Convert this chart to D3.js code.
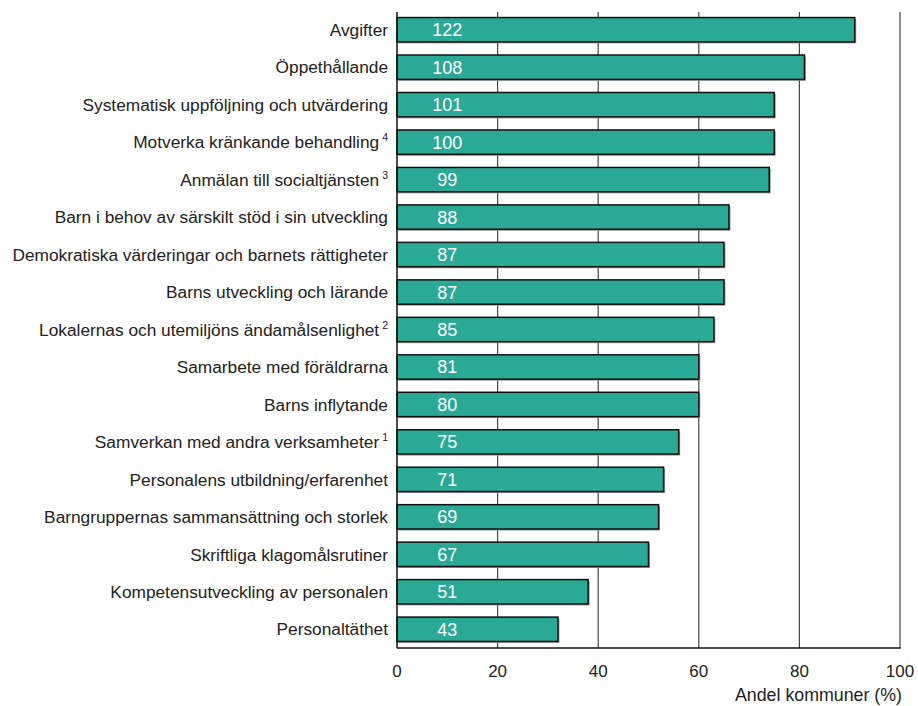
<!DOCTYPE html>
<html>
<head>
<meta charset="utf-8">
<script src="https://cdn.jsdelivr.net/npm/d3@7"></script>
<style>
  body { margin: 0; background: #fff; }
  text { font-family: "Liberation Sans", Arial, sans-serif; }
</style>
</head>
<body>
<svg id="chart" width="918" height="706"></svg>
<script>
// categories, top to bottom
var categories = [
  "Avgifter",
  "Öppethållande",
  "Systematisk uppföljning och utvärdering",
  "Motverka kränkande behandling",
  "Anmälan till socialtjänsten",
  "Barn i behov av särskilt stöd i sin utveckling",
  "Demokratiska värderingar och barnets rättigheter",
  "Barns utveckling och lärande",
  "Lokalernas och utemiljöns ändamålsenlighet",
  "Samarbete med föräldrarna",
  "Barns inflytande",
  "Samverkan med andra verksamheter",
  "Personalens utbildning/erfarenhet",
  "Barngruppernas sammansättning och storlek",
  "Skriftliga klagomålsrutiner",
  "Kompetensutveckling av personalen",
  "Personaltäthet"
]
// footnote marks after some labels
var footnotes = ["", "", "", "4", "3", "", "", "", "2", "", "", "1", "", "", "", "", ""]
// share of municipalities (%)
var shares = [91, 81, 75, 75, 74, 66, 65, 65, 63, 60, 60, 56, 53, 52, 50, 38, 32]
// number of municipalities, printed in the bars
var counts = [122, 108, 101, 100, 99, 88, 87, 87, 85, 81, 80, 75, 71, 69, 67, 51, 43]
var xTicks = [0, 20, 40, 60, 80, 100]
var xTitle = "Andel kommuner (%)"

var svg = d3.select("#chart")
// plot edges (note: "top" is reserved on window, so use other names)
var plotLeft = 397, plotRight = 900, plotTop = 11, plotBottom = 648

var x = d3.scaleLinear().domain([0, 100]).range([plotLeft, plotRight])
var y = d3.scaleBand().domain(categories).range([plotTop, plotBottom])
  .paddingInner(0.35).paddingOuter(0.175)

// vertical grid lines
svg.selectAll(".grid")
  .data(xTicks.filter(function(d) { return d > 0 }))
  .enter()
  .append("line")
  .attr("class", "grid")
  .attr("x1", function(d) { return x(d) })
  .attr("x2", function(d) { return x(d) })
  .attr("y1", plotTop + 1)
  .attr("y2", plotBottom)
  .attr("stroke", "#444")
  .attr("stroke-width", 1.2)

// bar shadows
svg.selectAll(".shadow")
  .data(shares)
  .enter()
  .append("rect")
  .attr("class", "shadow")
  .attr("x", x(0) + 1.5)
  .attr("y", function(d, i) { return y(categories[i]) + 1.5 })
  .attr("width", function(d) { return x(d) - x(0) })
  .attr("height", y.bandwidth())
  .attr("fill", "#999")

// bars
svg.selectAll(".bar")
  .data(shares)
  .enter()
  .append("rect")
  .attr("class", "bar")
  .attr("x", x(0))
  .attr("y", function(d, i) { return y(categories[i]) })
  .attr("width", function(d) { return x(d) - x(0) })
  .attr("height", y.bandwidth())
  .attr("fill", "#2ba997")
  .attr("stroke", "#111")
  .attr("stroke-width", 1.5)

// counts inside bars
svg.selectAll(".count")
  .data(counts)
  .enter()
  .append("text")
  .attr("class", "count")
  .attr("x", x(10))
  .attr("y", function(d, i) { return y(categories[i]) + y.bandwidth() / 2 })
  .attr("dy", "0.36em")
  .attr("text-anchor", "middle")
  .attr("fill", "#fff")
  .style("font-size", "18px")
  .text(function(d) { return d })

// category labels with footnote marks
var labels = svg.selectAll(".cat")
  .data(categories)
  .enter()
  .append("text")
  .attr("class", "cat")
  .attr("x", plotLeft - 9)
  .attr("y", function(d) { return y(d) + y.bandwidth() / 2 })
  .attr("dy", "0.36em")
  .attr("text-anchor", "end")
  .attr("fill", "#222")
  .style("font-size", "17.3px")
labels.append("tspan").text(function(d) { return d })
labels.filter(function(d, i) { return footnotes[i] !== "" })
  .append("tspan")
  .attr("dx", 3)
  .attr("dy", -7)
  .style("font-size", "10.5px")
  .text(function(d) { return footnotes[categories.indexOf(d)] })

// axes lines
svg.append("line")
  .attr("x1", plotLeft).attr("x2", plotLeft)
  .attr("y1", plotTop + 1).attr("y2", plotBottom)
  .attr("stroke", "#111").attr("stroke-width", 1.5)
svg.append("line")
  .attr("x1", plotLeft).attr("x2", plotRight + 0.6)
  .attr("y1", plotBottom).attr("y2", plotBottom)
  .attr("stroke", "#111").attr("stroke-width", 1.5)

// tick labels
svg.selectAll(".tick")
  .data(xTicks)
  .enter()
  .append("text")
  .attr("class", "tick")
  .attr("x", function(d) { return x(d) })
  .attr("y", 677)
  .attr("text-anchor", "middle")
  .attr("fill", "#222")
  .style("font-size", "17px")
  .text(function(d) { return d })

svg.append("text")
  .attr("x", 902)
  .attr("y", 701)
  .attr("text-anchor", "end")
  .attr("fill", "#222")
  .style("font-size", "17.8px")
  .text(xTitle)
</script>
</body>
</html>
